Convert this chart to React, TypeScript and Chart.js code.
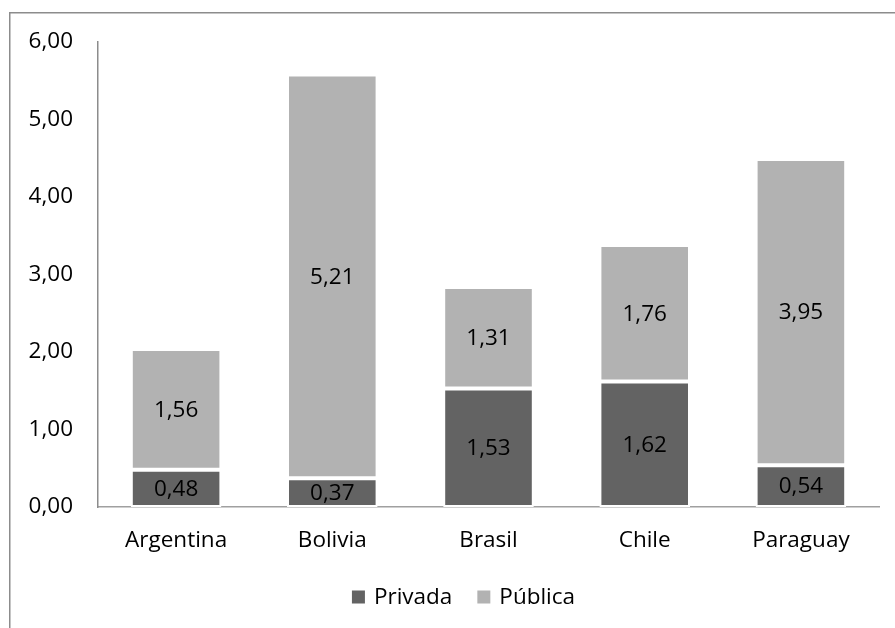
import React, { useEffect, useRef } from "react";
import { Chart, registerables } from "chart.js";

Chart.register(...registerables);

const categories = ["Argentina", "Bolivia", "Brasil", "Chile", "Paraguay"];
const privada = [0.48, 0.37, 1.53, 1.62, 0.54];
const publica = [1.56, 5.21, 1.31, 1.76, 3.95];
const seriesNames = ["Privada", "Pública"];
const FONT = "'Open Sans', sans-serif";
const FSIZE = 22.5;

const fmt = (v: number) => v.toFixed(2).replace(".", ",");

const framePlugin = {
  id: "frame",
  beforeDraw(chart: any) {
    const ctx = chart.ctx;
    ctx.save();
    ctx.fillStyle = "#ffffff";
    ctx.fillRect(0, 0, chart.width, chart.height);
    ctx.strokeStyle = "#8c8c8c";
    ctx.lineWidth = 1.5;
    ctx.beginPath();
    ctx.moveTo(9.75, chart.height + 5);
    ctx.lineTo(9.75, 12.75);
    ctx.lineTo(chart.width + 5, 12.75);
    ctx.stroke();
    ctx.restore();
  },
};

const labelPlugin = {
  id: "barLabels",
  afterDatasetsDraw(chart: any) {
    const ctx = chart.ctx;
    ctx.save();
    ctx.font = `${FSIZE}px ${FONT}`;
    ctx.fillStyle = "#000000";
    ctx.textAlign = "center";
    ctx.textBaseline = "middle";
    chart.data.datasets.forEach((ds: any, di: number) => {
      const meta = chart.getDatasetMeta(di);
      meta.data.forEach((bar: any, i: number) => {
        const v = ds.data[i];
        const y = (bar.y + bar.base) / 2;
        ctx.fillText(fmt(v), bar.x, y + 1);
      });
    });
    ctx.restore();
  },
};

const legendPlugin = {
  id: "customLegend",
  afterDraw(chart: any) {
    const ctx = chart.ctx;
    ctx.save();
    ctx.font = `${FSIZE}px ${FONT}`;
    ctx.textBaseline = "middle";
    ctx.textAlign = "left";
    const box = 13;
    const gapBoxText = 9;
    const gapItems = 25;
    const items = chart.data.datasets.map((ds: any) => ({
      label: ds.label,
      color: ds.backgroundColor,
      w: box + gapBoxText + ctx.measureText(ds.label).width,
    }));
    const total = items.reduce((a: number, it: any) => a + it.w, 0) + gapItems * (items.length - 1);
    let x = 463.5 - total / 2;
    const cy = 597;
    items.forEach((it: any) => {
      ctx.fillStyle = it.color;
      ctx.fillRect(x, cy - box / 2, box, box);
      ctx.fillStyle = "#000000";
      ctx.fillText(it.label, x + box + gapBoxText, cy + 1);
      x += it.w + gapItems;
    });
    ctx.restore();
  },
};

export default function App() {
  const ref = useRef<HTMLCanvasElement>(null);
  useEffect(() => {
    if (!ref.current) return;
    const chart = new Chart(ref.current, {
      type: "bar",
      data: {
        labels: categories,
        datasets: [
          {
            label: seriesNames[0],
            data: privada,
            backgroundColor: "#636363",
            borderColor: "#ffffff",
            borderWidth: 2,
            borderSkipped: false,
          },
          {
            label: seriesNames[1],
            data: publica,
            backgroundColor: "#b2b2b2",
            borderColor: "#ffffff",
            borderWidth: 2,
            borderSkipped: false,
          },
        ],
      },
      options: {
        animation: false,
        responsive: false,
        maintainAspectRatio: false,
        datasets: { bar: { barPercentage: 0.58, categoryPercentage: 1 } },
        layout: { padding: { left: 0, right: 16, top: 42, bottom: 63 } },
        plugins: {
          legend: { display: false },
          tooltip: { enabled: false },
        },
        scales: {
          x: {
            stacked: true,
            grid: { display: false, drawTicks: false },
            border: { display: true, color: "#a0a0a0", width: 1.5 },
            ticks: { font: { family: FONT, size: FSIZE }, color: "#000000", padding: 20 },
            afterFit: (s: any) => {
              s.height = 58;
            },
          },
          y: {
            stacked: true,
            min: 0,
            max: 6,
            grid: { display: false, drawTicks: false },
            border: { display: true, color: "#8c8c8c", width: 1.5 },
            ticks: {
              stepSize: 1,
              font: { family: FONT, size: FSIZE },
              color: "#000000",
              padding: 25,
              callback: (v: any) => fmt(Number(v)),
            },
            afterFit: (s: any) => {
              s.width = 98;
            },
          },
        },
      },
      plugins: [framePlugin, labelPlugin, legendPlugin],
    });
    return () => chart.destroy();
  }, []);
  return (
    <div style={{ position: "fixed", left: 0, top: 0, width: 895, height: 628 }}>
      <canvas ref={ref} width={895} height={628} style={{ width: 895, height: 628 }} />
    </div>
  );
}
